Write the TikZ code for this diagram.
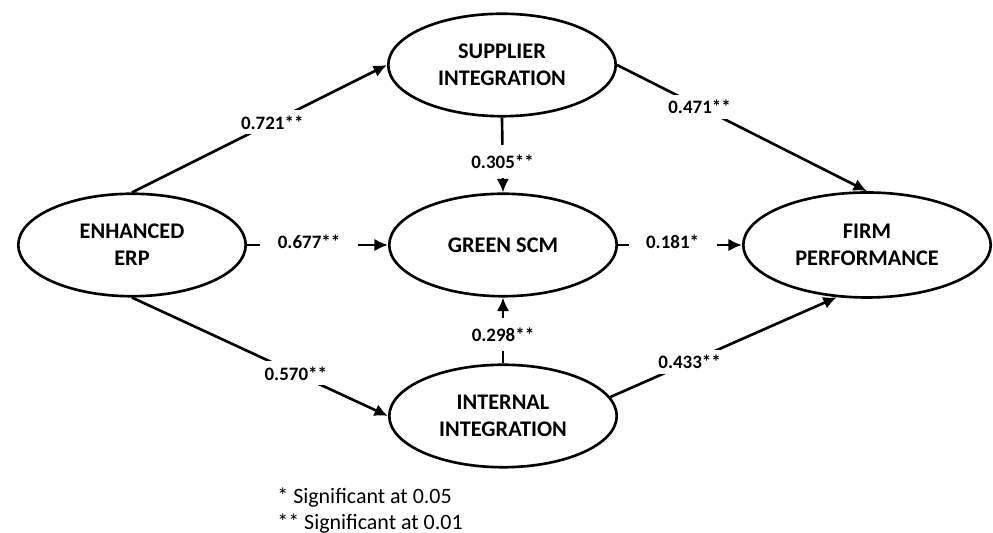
\documentclass[tikz,border=0pt]{standalone}
\usepackage{fontspec}
\setmainfont{Carlito}
\usetikzlibrary{shapes.geometric}
\usetikzlibrary{arrows.meta}

\tikzset{
  latent/.style={draw, ellipse, line width=1.5pt, minimum width=4.55cm, minimum height=2.05cm,
    align=center, inner sep=0pt, font=\fontsize{12.7}{15.5}\selectfont\bfseries},
  effect/.style={line width=1.5pt, -{Latex[length=0.27cm, width=0.25cm]}},
  coef/.style={fill=white, inner xsep=0.35cm, inner ysep=3pt, font=\fontsize{10.8}{12}\selectfont\bfseries},
  vcoef/.style={coef, inner ysep=5.5pt}
}

\begin{document}
\begin{tikzpicture}[x=0.02cm, y=0.02cm]
    \useasboundingbox (0,0) rectangle (993,533);
    \node[latent] (erp) at (132,288) {ENHANCED\\ERP};
    \node[latent] (si) at (502,468) {SUPPLIER\\INTEGRATION};
    \node[latent] (gscm) at (503,288) {GREEN SCM};
    \node[latent, minimum width=4.95cm, minimum height=2.1cm] (fp) at (867,288) {FIRM\\PERFORMANCE};
    \node[latent] (ii) at (503,117) {INTERNAL\\INTEGRATION};
    \draw[effect] (erp.north) -- node[coef, pos=0.55] {0.721**} (si.west);
    \draw[effect] (erp.east) -- node[coef, pos=0.44, yshift=2pt] {0.677**} (gscm.west);
    \draw[effect] (erp.south) -- node[coef, pos=0.64] {0.570**} (ii.west);
    \draw[effect] (si.south) -- node[vcoef, pos=0.59] {0.305**} (gscm.north);
    \draw[effect] (ii.north) -- node[vcoef, pos=0.44] {0.298**} (gscm.south);
    \draw[effect] (si.east) -- node[coef, pos=0.33] {0.471**} (fp.north);
    \draw[effect] (gscm.east) -- node[coef, pos=0.44, yshift=2pt] {0.181*} (fp.west);
    \draw[effect] (ii.10) -- node[coef, pos=0.35] {0.433**} (fp.-120);
    \node[anchor=north west, align=left, inner sep=0pt, font=\fontsize{12.5}{14.7}\selectfont] (note) at (277,45)
      {* Significant at 0.05\\** Significant at 0.01};
  \end{tikzpicture}
\end{document}
